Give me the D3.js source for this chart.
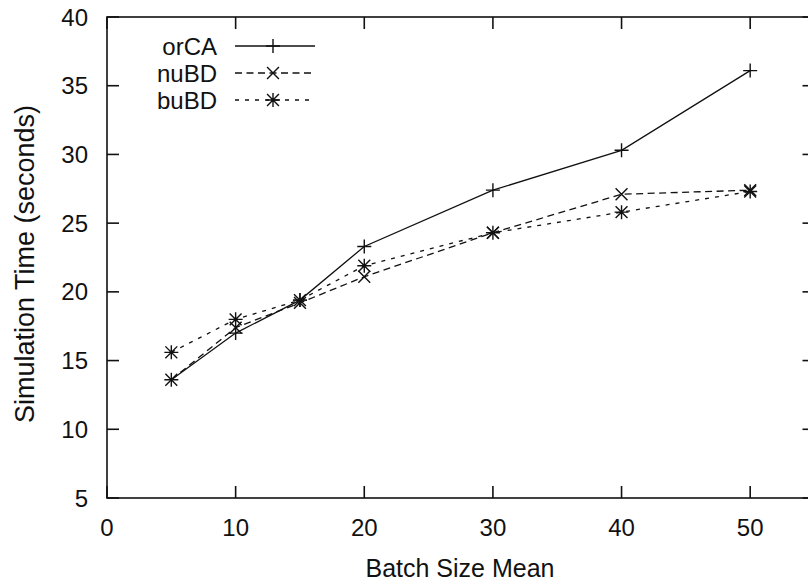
<!DOCTYPE html>
<html>
<head>
<meta charset="utf-8">
<script src="https://cdn.jsdelivr.net/npm/d3@7"></script>
<style>
  body { margin: 0; background: #fff; }
  text { font-family: "Liberation Sans", Arial, Helvetica, sans-serif; fill: #111; }
</style>
</head>
<body>
<div id="vis"></div>
<script>
// chart size
var width = 808;
var height = 585;

// data
var batchSizes = [5, 10, 15, 20, 30, 40, 50];
var orCA = [13.6, 17.0, 19.4, 23.3, 27.4, 30.3, 36.1];
var nuBD = [13.6, 17.4, 19.2, 21.1, 24.3, 27.1, 27.4];
var buBD = [15.6, 18.0, 19.4, 21.9, 24.3, 25.8, 27.3];
var seriesNames = ['orCA', 'nuBD', 'buBD'];
var xTicks = [0, 10, 20, 30, 40, 50];
var yTicks = [5, 10, 15, 20, 25, 30, 35, 40];

var margin = {
    top: 17,
    left: 107,
    bottom: 87
};

var svg = d3.select('#vis')
    .append('svg')
    .attr('width', width)
    .attr('height', height);

var x_scale = d3.scaleLinear()
    .domain([0, 55])
    .range([margin.left, 814.5]);

var y_scale = d3.scaleLinear()
    .domain([5, 40])
    .range([height - margin.bottom, margin.top]);

var x0 = x_scale.range()[0], x1 = x_scale.range()[1];
var y0 = y_scale.range()[0], y1 = y_scale.range()[1];
var tickLen = 12;

var series = [
    { name: 'orCA', values: orCA, dash: null, marker: 'plus' },
    { name: 'nuBD', values: nuBD, dash: '7,4.5', marker: 'cross' },
    { name: 'buBD', values: buBD, dash: '4,6', marker: 'star' }
];

// frame
svg.append('rect')
    .attr('x', x0)
    .attr('y', y1)
    .attr('width', x1 - x0)
    .attr('height', y0 - y1)
    .attr('fill', 'none')
    .attr('stroke', '#111')
    .attr('stroke-width', 1.6);

// inward ticks on all four sides
var ticks = svg.append('g')
    .attr('stroke', '#111')
    .attr('stroke-width', 1.6);

xTicks.forEach(function(t) {
    var x = x_scale(t);
    ticks.append('line').attr('x1', x).attr('x2', x).attr('y1', y0).attr('y2', y0 - tickLen);
    ticks.append('line').attr('x1', x).attr('x2', x).attr('y1', y1).attr('y2', y1 + tickLen);
});
yTicks.forEach(function(t) {
    var y = y_scale(t);
    ticks.append('line').attr('x1', x0).attr('x2', x0 + tickLen).attr('y1', y).attr('y2', y);
    ticks.append('line').attr('x1', x1).attr('x2', x1 - tickLen).attr('y1', y).attr('y2', y);
});

// tick labels
svg.append('g').selectAll('text')
    .data(xTicks)
    .enter()
    .append('text')
    .attr('x', function(d) { return x_scale(d); })
    .attr('y', 536)
    .attr('text-anchor', 'middle')
    .style('font-size', '24px')
    .text(function(d) { return d; });

svg.append('g').selectAll('text')
    .data(yTicks)
    .enter()
    .append('text')
    .attr('x', 88)
    .attr('y', function(d) { return y_scale(d); })
    .attr('dy', '0.36em')
    .attr('text-anchor', 'end')
    .style('font-size', '24px')
    .text(function(d) { return d; });

// axis titles
svg.append('text')
    .attr('x', 460)
    .attr('y', 577)
    .attr('text-anchor', 'middle')
    .style('font-size', '25px')
    .text('Batch Size Mean');

svg.append('text')
    .attr('transform', 'translate(34,264) rotate(-90)')
    .attr('text-anchor', 'middle')
    .style('font-size', '27px')
    .text('Simulation Time (seconds)');

// marker shapes
var ms = 7;
function markerPath(type) {
    var plus = 'M' + (-ms) + ',0H' + ms + 'M0,' + (-ms) + 'V' + ms;
    var c = ms * 0.85;
    var cross = 'M' + (-c) + ',' + (-c) + 'L' + c + ',' + c + 'M' + (-c) + ',' + c + 'L' + c + ',' + (-c);
    if (type === 'plus') return plus;
    if (type === 'cross') return cross;
    return plus + cross;
}

var line = d3.line()
    .x(function(d, i) { return x_scale(batchSizes[i]); })
    .y(function(d) { return y_scale(d); });

series.forEach(function(s) {
    var g = svg.append('g').attr('class', 'series ' + s.name);
    g.append('path')
        .datum(s.values)
        .attr('d', line)
        .attr('fill', 'none')
        .attr('stroke', '#111')
        .attr('stroke-width', 1.3)
        .attr('stroke-dasharray', s.dash);
    g.selectAll('.mark')
        .data(s.values)
        .enter()
        .append('path')
        .attr('class', 'mark')
        .attr('transform', function(d, i) {
            return 'translate(' + x_scale(batchSizes[i]) + ',' + y_scale(d) + ')';
        })
        .attr('d', markerPath(s.marker))
        .attr('fill', 'none')
        .attr('stroke', '#111')
        .attr('stroke-width', 1.4);
});

// legend
var legend = svg.append('g');
series.forEach(function(s, i) {
    var y = 46 + i * 27;
    legend.append('text')
        .attr('x', 217)
        .attr('y', y)
        .attr('dy', '0.36em')
        .attr('text-anchor', 'end')
        .style('font-size', '24px')
        .text(seriesNames[i]);
    legend.append('line')
        .attr('x1', 235)
        .attr('x2', 315)
        .attr('y1', y)
        .attr('y2', y)
        .attr('stroke', '#111')
        .attr('stroke-width', 1.3)
        .attr('stroke-dasharray', s.dash);
    legend.append('path')
        .attr('transform', 'translate(273,' + y + ')')
        .attr('d', markerPath(s.marker))
        .attr('fill', 'none')
        .attr('stroke', '#111')
        .attr('stroke-width', 1.4);
});
</script>
</body>
</html>
